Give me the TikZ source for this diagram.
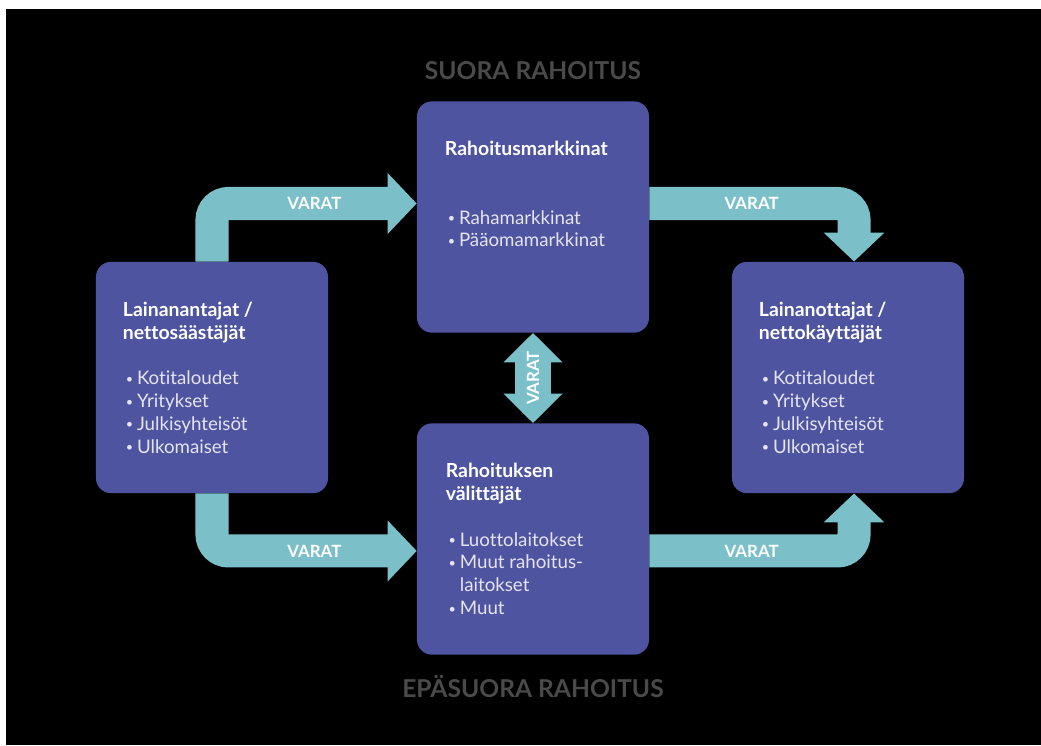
\documentclass[tikz,border=0pt]{standalone}
\usepackage{fontspec}
\setmainfont{Lato}[Ligatures=NoCommon]
\usetikzlibrary{arrows.meta, positioning}

\definecolor{boxblue}{HTML}{4F54A1}
\definecolor{flowteal}{HTML}{7BC0C8}
\definecolor{headgray}{HTML}{4A4A4A}
\definecolor{itemtext}{HTML}{E4E4F2}

\newcommand{\bul}{\hspace*{2pt}\makebox[8pt][l]{\raisebox{1pt}{\fontsize{9}{9}\selectfont\textbullet}}}
\newcommand{\ttl}[1]{{\color{white}\bfseries\fontsize{13.8}{16.2}\selectfont #1}}

\begin{document}
\begin{tikzpicture}[
  x=0.025cm, y=-0.025cm,
  party/.style={rectangle, rounded corners=10.7pt, fill=boxblue, minimum width=165pt, minimum height=164.5pt, inner sep=0pt},
  boxtext/.style={inner sep=0pt, align=left, text=itemtext, font=\fontsize{13.3}{16.2}\selectfont},
  heading/.style={inner sep=0pt, text=headgray, font=\bfseries\fontsize{17.5}{20}\selectfont},
  flow/.style={draw=flowteal, line width=23.5pt, rounded corners=11.7pt, -{Triangle[length=20.6pt, width=42pt]}},
  flowboth/.style={draw=flowteal, line width=25.6pt, {Triangle[length=21pt, width=41pt]}-{Triangle[length=21pt, width=41pt]}},
  flowlabel/.style={text=white, font=\bfseries\fontsize{12}{14}\selectfont}
]

% canvas
\fill[white] (0,0) rectangle (1041,745);
\fill[black] (6,9) rectangle (1041,745);

% boxes
\node[party] (lend) at (212,377.5) {};
\node[party] (market) at (533,217) {};
\node[party] (inter) at (533,539) {};
\node[party] (borrow) at (848,377.5) {};

\node[boxtext, below right=28.5pt and 19.2pt of lend.north west] (lendtxt)
  {\ttl{Lainanantajat /}\\ \ttl{nettosäästäjät}\\[16.2pt]
   \bul Kotitaloudet\\ \bul Yritykset\\ \bul Julkisyhteisöt\\ \bul Ulkomaiset};
\node[boxtext, below right=28.5pt and 19.9pt of market.north west] (markettxt)
  {\ttl{Rahoitusmarkkinat}\\[32.4pt]
   \bul Rahamarkkinat\\ \bul Pääomamarkkinat};
\node[boxtext, below right=28.5pt and 20.5pt of inter.north west] (intertxt)
  {\ttl{Rahoituksen}\\ \ttl{välittäjät}\\[16.2pt]
   \bul Luottolaitokset\\ \bul Muut rahoitus-\\ \hspace*{10pt}laitokset\\ \bul Muut};
\node[boxtext, below right=28.5pt and 19.2pt of borrow.north west] (borrowtxt)
  {\ttl{Lainanottajat /}\\ \ttl{nettokäyttäjät}\\[16.2pt]
   \bul Kotitaloudet\\ \bul Yritykset\\ \bul Julkisyhteisöt\\ \bul Ulkomaiset};

% headings
\node[heading] (direct) at (533,71) {SUORA RAHOITUS};
\node[heading] (indirect) at (533,687) {EPÄSUORA RAHOITUS};

% flows
\draw[flow] (lend.north) |- node[pos=0.75, flowlabel] (v1) {VARAT} ([yshift=9.6pt]market.west);
\draw[flow] ([yshift=9.6pt]market.east) -| node[pos=0.25, flowlabel] (v2) {VARAT} ([xshift=4.3pt]borrow.north);
\draw[flow] (lend.south) |- node[pos=0.75, flowlabel] (v3) {VARAT} ([yshift=-8.5pt]inter.west);
\draw[flow] ([yshift=-8.5pt]inter.east) -| node[pos=0.25, flowlabel] (v4) {VARAT} ([xshift=4.3pt]borrow.south);
\draw[flowboth] (market.south) -- node[midway, flowlabel, rotate=90] (v5) {VARAT} (inter.north);

\end{tikzpicture}
\end{document}
